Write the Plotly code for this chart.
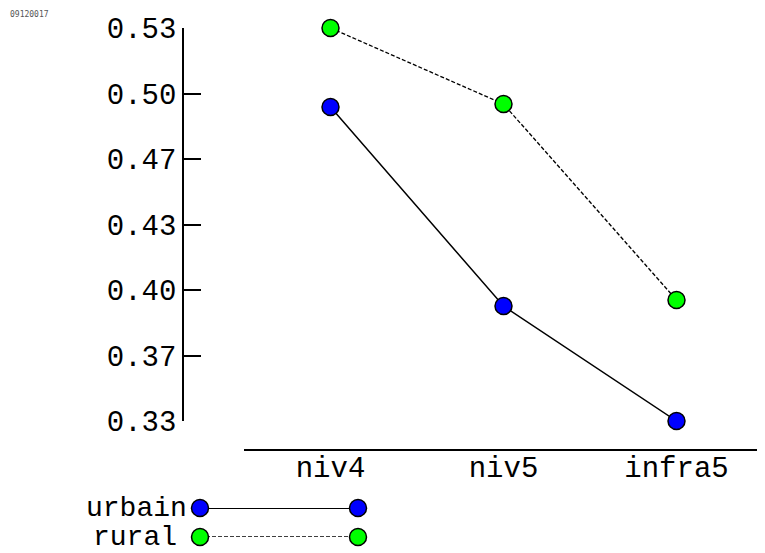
import plotly.graph_objects as go

categories = ["niv4", "niv5", "infra5"]
urbain = [0.4918, 0.3905, 0.332]
rural = [0.532, 0.4933, 0.3936]
series_names = ["urbain", "rural"]
y_min, y_max = 0.332, 0.532
n_ticks = 7
tick_vals = [y_min + k * (y_max - y_min) / (n_ticks - 1) for k in range(n_ticks)]
tick_text = [f"{v:.2f}" for v in tick_vals]

OFF = 8  # page body margin
W, H = 765 - OFF, 553 - OFF
FONT = "Liberation Mono"
FS = 29
FS_LEG = 28

def px_x(x):
    return (x - OFF) / W

def px_y(y):
    return 1 - (y - OFF) / H

marker_u = dict(size=17, color="#0000FF", line=dict(color="black", width=1.5))
marker_r = dict(size=17, color="#00FF00", line=dict(color="black", width=1.5))

fig = go.Figure()
fig.add_trace(go.Scatter(x=categories, y=urbain, mode="lines+markers", name=series_names[0],
                         line=dict(color="black", width=1.5), marker=marker_u,
                         cliponaxis=False, showlegend=False))
fig.add_trace(go.Scatter(x=categories, y=rural, mode="lines+markers", name=series_names[1],
                         line=dict(color="black", width=1.3, dash="4px,2px"), marker=marker_r,
                         cliponaxis=False, showlegend=False))

# legend drawn on its own small axes
fig.add_trace(go.Scatter(x=[0, 1], y=[1, 1], xaxis="x2", yaxis="y2", mode="lines+markers",
                         line=dict(color="black", width=2), marker=marker_u,
                         cliponaxis=False, showlegend=False, hoverinfo="skip"))
fig.add_trace(go.Scatter(x=[0, 1], y=[0, 0], xaxis="x2", yaxis="y2", mode="lines+markers",
                         line=dict(color="black", width=1.5, dash="4px,2px"), marker=marker_r,
                         cliponaxis=False, showlegend=False, hoverinfo="skip"))

fig.update_layout(
    width=W, height=H,
    margin=dict(l=0, r=0, t=0, b=0, pad=0, autoexpand=False),
    paper_bgcolor="white", plot_bgcolor="white",
    font=dict(family=FONT, size=FS, color="black"),
    showlegend=False,
    xaxis=dict(
        domain=[px_x(244), px_x(763)], range=[-0.5, 2.5], type="category",
        anchor="free", position=px_y(450), automargin=False,
        showline=True, linecolor="black", linewidth=1.5,
        showgrid=False, zeroline=False, ticks="", ticklabelstandoff=-9,
        tickfont=dict(family=FONT, size=FS, color="black"),
    ),
    yaxis=dict(
        domain=[px_y(421), px_y(28)], range=[y_min, y_max],
        anchor="free", position=px_x(183), automargin=False,
        showline=True, linecolor="black", linewidth=1.5,
        showgrid=False, zeroline=False,
        ticks="inside", ticklen=17, tickwidth=1.5, tickcolor="black",
        tickvals=tick_vals, ticktext=tick_text,
        tickfont=dict(family=FONT, size=FS, color="black"),
    ),
    xaxis2=dict(domain=[px_x(200), px_x(358)], range=[0, 1], anchor="y2",
                visible=False, fixedrange=True, automargin=False),
    yaxis2=dict(domain=[px_y(537), px_y(508)], range=[0, 1], anchor="x2",
                visible=False, fixedrange=True, automargin=False),
)

fig.add_annotation(x=0, y=1, xref="x2", yref="y2", text=series_names[0], showarrow=False,
                   xanchor="right", yanchor="middle", xshift=-12, borderpad=0,
                   font=dict(family=FONT, size=FS_LEG, color="black"))
fig.add_annotation(x=0, y=0, xref="x2", yref="y2", text=series_names[1], showarrow=False,
                   xanchor="right", yanchor="middle", xshift=-22, borderpad=0,
                   font=dict(family=FONT, size=FS_LEG, color="black"))
fig.add_annotation(x=px_x(8), y=px_y(14), xref="paper", yref="paper", text="09120017",
                   showarrow=False, xanchor="left", yanchor="middle",
                   font=dict(family="DejaVu Sans Mono", size=8, color="#555555"))

fig.write_html("out.html")
